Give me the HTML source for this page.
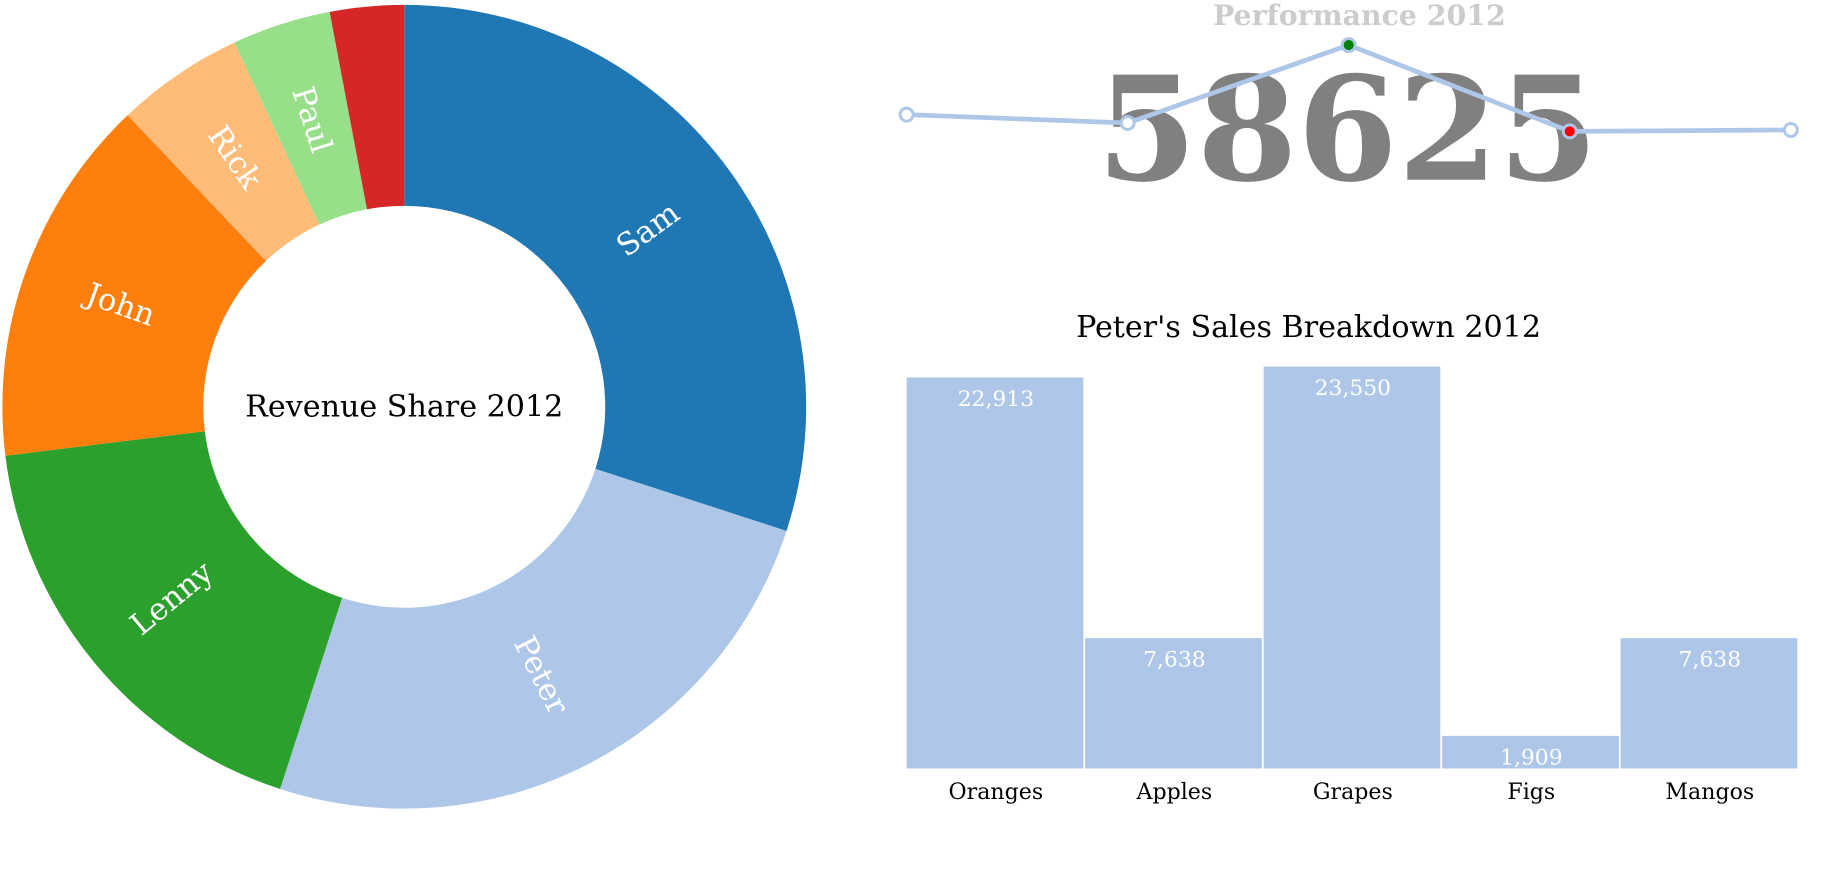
<!DOCTYPE html>
<html><head><meta charset="utf-8"><style>
html,body{margin:0;padding:0;background:#fff;width:1844px;height:875px;overflow:hidden}
svg{display:block}
text{font-family:"DejaVu Serif","Liberation Serif",serif}
</style></head><body>
<svg id="s" width="1844" height="875" viewBox="0 0 1560 740">
<g id="donut" transform="translate(342,344)"></g>
<g id="line"></g>
<g id="bars"></g>
</svg>
<script>
const NS='http://www.w3.org/2000/svg';
const pieNames=['Sam','Peter','Lenny','John','Rick','Paul',''];
const pieValues=[108,90,65,53.5,18.5,14.3,10.7];
const pieColors=['#1f77b4','#aec7e8','#2ca02c','#ff7f0e','#ffbb78','#98df8a','#d62728'];
const perfValues=[14000,13100,21500,12200,12350];
const perfTotal='58625';
const barCats=['Oranges','Apples','Grapes','Figs','Mangos'];
const barValues=[22913,7638,23550,1909,7638];

function mk(tag,attrs,parent){const e=document.createElementNS(NS,tag);for(const k in attrs)e.setAttribute(k,attrs[k]);parent.appendChild(e);return e;}

// Donut
const dg=document.getElementById('donut');
const R=340,r=170,tot=pieValues.reduce((a,b)=>a+b,0);
let a0=0;
function pt(rad,ang){return [rad*Math.sin(ang),-rad*Math.cos(ang)];}
pieValues.forEach((v,i)=>{
  const a1=a0+v/tot*2*Math.PI;
  const [x0,y0]=pt(R,a0),[x1,y1]=pt(R,a1),[x2,y2]=pt(r,a1),[x3,y3]=pt(r,a0);
  const lg=(a1-a0)>Math.PI?1:0;
  const p=mk('path',{d:`M${x0},${y0}A${R},${R} 0 ${lg} 1 ${x1},${y1}L${x2},${y2}A${r},${r} 0 ${lg} 0 ${x3},${y3}Z`,fill:pieColors[i]},dg);
  
  
  if(pieNames[i]){
    const m=(a0+a1)/2,[cx,cy]=pt((R+r)/2,m);
    let rot=m*180/Math.PI-90; if(rot>90)rot-=180;
    const t=mk('text',{x:0,y:0,transform:`translate(${cx},${cy}) rotate(${rot})`,'text-anchor':'middle','dominant-baseline':'central',fill:'#fff','font-size':26},dg);
    t.textContent=pieNames[i];
    
    
  }
  a0=a1;
});
const ct=mk('text',{x:0,y:0,'text-anchor':'middle','dominant-baseline':'central','font-size':25.5,fill:'#000'},dg);
ct.textContent='Revenue Share 2012';



// Performance line
const lg_=document.getElementById('line');
const pt1=mk('text',{x:1150,y:21,'text-anchor':'middle','font-size':24,'font-weight':'bold',fill:'#ccc'},lg_);
pt1.textContent='Performance 2012';


const big=mk('text',{x:1140,y:152,'text-anchor':'middle','font-size':122,'font-weight':'bold',fill:'#808080'},lg_);
big.textContent=perfTotal;


const pmin=Math.min(...perfValues),pmax=Math.max(...perfValues);
const lx=i=>767+i*(1515-767)/(perfValues.length-1);
const ly=v=>111-(v-pmin)/(pmax-pmin)*73;
const pl=mk('polyline',{points:perfValues.map((v,i)=>lx(i)+','+ly(v)).join(' '),fill:'none',stroke:'#aec7e8','stroke-width':4},lg_);


perfValues.forEach((v,i)=>{
  const f=v===pmax?'green':v===pmin?'red':'#fff';
  const c=mk('circle',{cx:lx(i),cy:ly(v),r:5.5,fill:f,stroke:'#aec7e8','stroke-width':2.5},lg_);
  
  
});

// Bars
const bg=document.getElementById('bars');
const bt=mk('text',{x:1107,y:285,'text-anchor':'middle','font-size':25.5,fill:'#000'},bg);
bt.textContent="Peter's Sales Breakdown 2012";


const bx0=767,bx1=1522,bBottom=650,bH=340,bmax=Math.max(...barValues);
const bw=(bx1-bx0)/barCats.length;
const by=v=>bBottom-v/bmax*bH;
barValues.forEach((v,i)=>{
  const x=bx0+i*bw;
  const rc=mk('rect',{x:x,y:by(v),width:bw-1.5,height:bBottom-by(v),fill:'#aec7e8'},bg);
  
  
  const vt=mk('text',{x:x+bw/2,y:by(v)+24,'text-anchor':'middle','font-size':18.5,fill:'#fff'},bg);
  vt.textContent=v.toLocaleString('en-US');
  
  
  const ct2=mk('text',{x:x+bw/2,y:676,'text-anchor':'middle','font-size':18.7,fill:'#000'},bg);
  ct2.textContent=barCats[i];
  
  
});
</script>
</body></html>
